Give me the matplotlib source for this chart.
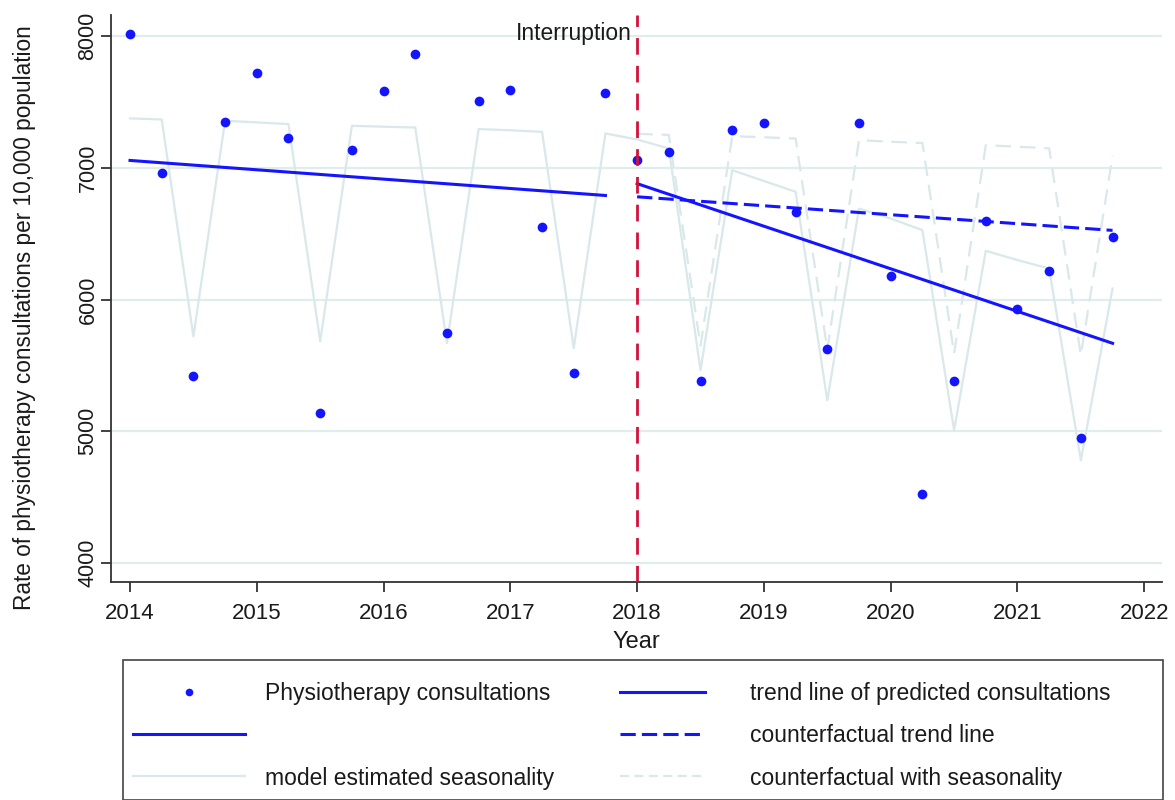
import matplotlib
matplotlib.use("Agg")
import matplotlib.pyplot as plt
from matplotlib.lines import Line2D
from matplotlib.patches import Rectangle

plt.rcParams['font.family'] = ['Liberation Sans', 'DejaVu Sans']

# ---------------- data ----------------
quarters = [2014.0, 2014.25, 2014.5, 2014.75, 2015.0, 2015.25, 2015.5, 2015.75,
            2016.0, 2016.25, 2016.5, 2016.75, 2017.0, 2017.25, 2017.5, 2017.75,
            2018.0, 2018.25, 2018.5, 2018.75, 2019.0, 2019.25, 2019.5, 2019.75,
            2020.0, 2020.25, 2020.5, 2020.75, 2021.0, 2021.25, 2021.5, 2021.75]

consultations = [8013, 6957, 5416, 7349, 7716, 7223, 5142, 7134,
                 7585, 7863, 5746, 7506, 7587, 6547, 5442, 7565,
                 7063, 7119, 5383, 7290, 7340, 6662, 5624, 7340,
                 6177, 4527, 5380, 6597, 5932, 6218, 4952, 6476]

seasonality = [7375, 7367, 5720, 7357, 7345, 7332, 5683, 7319,
               7312, 7306, 5670, 7294, 7285, 7273, 5632, 7261,
               7215, 7147, 5463, 6982, 6900, 6818, 5235, 6690,
               6615, 6527, 5008, 6370, 6300, 6235, 4780, 6084]

cf_quarters = quarters[16:]
cf_seasonality = [7258, 7250, 5650, 7240, 7232, 7222, 5620, 7210,
                  7198, 7188, 5590, 7172, 7160, 7148, 5577, 7090]

pre_trend_x = [2014.0, 2017.75]
pre_trend_y = [7056, 6790]
post_trend_x = [2018.0, 2021.75]
post_trend_y = [6880, 5668]
cf_trend_x = [2018.0, 2021.75]
cf_trend_y = [6780, 6525]

interruption = 2018.0
x_ticks = [2014, 2015, 2016, 2017, 2018, 2019, 2020, 2021, 2022]
y_ticks = [4000, 5000, 6000, 7000, 8000]

# ---------------- styles ----------------
BLUE = '#1414ff'
LIGHT = '#d9e8ea'
GRID = '#e1eded'
RED = '#d3123c'
TXT = '#1a1a1a'

fig = plt.figure(figsize=(11.75, 8.0), dpi=100)
ax = fig.add_axes([111/1175, 1-582/800, (1162-111)/1175, (582-15)/800])

ax.set_xlim(2013.85, 2022.14)
ax.set_ylim(3856, 8160)

for yv in y_ticks:
    ax.axhline(yv, color=GRID, lw=1.6, zorder=0)

ax.plot(quarters, seasonality, color=LIGHT, lw=1.6, zorder=1)
ax.plot(cf_quarters, cf_seasonality, color=LIGHT, lw=1.6, dashes=(7, 4), zorder=1)
ax.plot(quarters, consultations, linestyle='none', marker='o', markersize=7,
        color=BLUE, markeredgewidth=0, zorder=3)
ax.plot(pre_trend_x, pre_trend_y, color=BLUE, lw=2.2, zorder=4)
ax.plot(post_trend_x, post_trend_y, color=BLUE, lw=2.2, zorder=4)
ax.plot(cf_trend_x, cf_trend_y, color=BLUE, lw=2.2, dashes=(5, 2), zorder=4)
ax.axvline(interruption, color=RED, lw=2.0, dashes=(6, 4), zorder=5)
ax.text(interruption - 0.04, 8020, 'Interruption', ha='right', va='center',
        fontsize=16.5, color=TXT, zorder=6)

for s in ['top', 'right']:
    ax.spines[s].set_visible(False)
for s in ['left', 'bottom']:
    ax.spines[s].set_color('#333333')
    ax.spines[s].set_linewidth(1.3)

ax.set_xticks(x_ticks)
ax.set_yticks(y_ticks)
ax.tick_params(axis='both', direction='out', length=7, width=1.3, color='#333333',
               labelcolor=TXT)
ax.tick_params(axis='x', labelsize=16, pad=8)
ax.tick_params(axis='y', labelsize=15.5, pad=2)
for lab in ax.get_yticklabels():
    lab.set_rotation(90)
    lab.set_va('center')

ax.set_xlabel('Year', fontsize=17, color=TXT, labelpad=5)
ax.set_ylabel('Rate of physiotherapy consultations per 10,000 population',
              fontsize=16.3, color=TXT)
ax.yaxis.set_label_coords(-0.0714, 0.467)

# ---------------- legend ----------------
box = Rectangle((123/1175, 0), (1163-123)/1175, (800-668)/800 + 0.01,
                transform=fig.transFigure, fill=False, edgecolor='#444444', lw=1.2,
                clip_on=False)
fig.patches.append(box)

h_pts = Line2D([], [], linestyle='none', marker='o', markersize=5.5, color=BLUE, markeredgewidth=0)
h_solid = Line2D([], [], color=BLUE, lw=2.2)
h_seas = Line2D([], [], color=LIGHT, lw=1.6)
h_trend = Line2D([], [], color=BLUE, lw=2.2)
h_cft = Line2D([], [], color=BLUE, lw=2.2, dashes=(5, 2))
h_cfs = Line2D([], [], color=LIGHT, lw=1.6, dashes=(4, 2.5))

LFS = 16.5
leg1 = fig.legend([h_pts, h_solid, h_seas],
                  ['Physiotherapy consultations', ' ', 'model estimated seasonality'],
                  loc='upper left', bbox_to_anchor=(133/1175, 1-682/800),
                  frameon=False, fontsize=LFS, handlelength=4.87, handletextpad=0.87,
                  labelspacing=0.84, borderpad=0, borderaxespad=0, labelcolor=TXT)
leg2 = fig.legend([h_trend, h_cft, h_cfs],
                  ['trend line of predicted consultations', 'counterfactual trend line',
                   'counterfactual with seasonality'],
                  loc='upper left', bbox_to_anchor=(620/1175, 1-682/800),
                  frameon=False, fontsize=LFS, handlelength=3.7, handletextpad=1.96,
                  labelspacing=0.84, borderpad=0, borderaxespad=0, labelcolor=TXT)

fig.savefig('out.png', dpi=100)
